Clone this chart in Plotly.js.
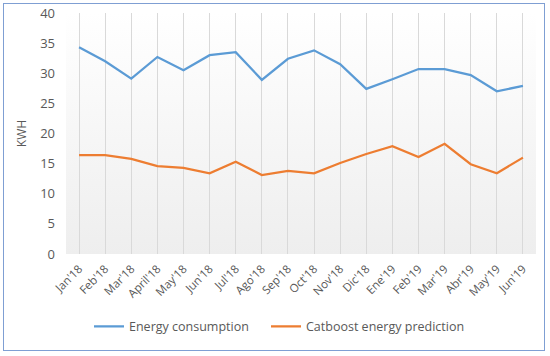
<!DOCTYPE html>
<html>
<head>
<meta charset="utf-8">
<script src="https://cdn.plot.ly/plotly-3.0.1.min.js"></script>
<style>
html,body{margin:0;padding:0;background:#fff;}
#wrap{position:relative;width:550px;height:356px;}
#chart{width:550px;height:356px;}
#frame{position:absolute;left:3px;top:3px;width:540px;height:346px;border:1.5px solid #7f9fd3;pointer-events:none;}
</style>
</head>
<body>
<div id="wrap"><div id="chart"></div><div id="frame"></div></div>
<script>
const months = ["Jan'18","Feb'18","Mar'18","April'18","May'18","Jun'18","Jul'18","Ago'18","Sep'18","Oct'18","Nov'18","Dic'18","Ene'19","Feb'19","Mar'19","Abr'19","May'19","Jun'19"];
const energyConsumption = [34.3,32.0,29.1,32.7,30.5,33.0,33.5,28.9,32.4,33.8,31.5,27.4,29.0,30.7,30.7,29.7,27.0,27.9];
const catboostPrediction = [16.4,16.4,15.8,14.6,14.3,13.4,15.3,13.1,13.8,13.4,15.1,16.6,17.9,16.1,18.3,14.9,13.4,16.0];

const grad = 'data:image/svg+xml;utf8,' + encodeURIComponent(
  '<svg xmlns="http://www.w3.org/2000/svg" width="100" height="100" preserveAspectRatio="none"><defs><linearGradient id="g" x1="0" y1="0" x2="0" y2="1"><stop offset="0" stop-color="#ffffff"/><stop offset="1" stop-color="#eeeeee"/></linearGradient></defs><rect width="100" height="100" fill="url(#g)"/></svg>');

const traces = [
  {x: months, y: energyConsumption, type: 'scatter', mode: 'lines', name: 'Energy consumption',
   line: {color: '#5B9BD5', width: 2.25}, legend: 'legend'},
  {x: months, y: catboostPrediction, type: 'scatter', mode: 'lines', name: 'Catboost energy prediction',
   line: {color: '#ED7D31', width: 2.25}, legend: 'legend2'}
];

const legendBase = {orientation: 'h', xref: 'container', yref: 'container', xanchor: 'left',
  y: 0.082, yanchor: 'middle', font: {size: 12.5, color: '#595959'}, bgcolor: 'rgba(0,0,0,0)'};

const layout = {
  width: 550, height: 356,
  margin: {l: 66, r: 14, t: 13, b: 102},
  paper_bgcolor: 'rgba(0,0,0,0)',
  plot_bgcolor: 'rgba(0,0,0,0)',
  font: {family: 'Open Sans, sans-serif', color: '#595959', size: 11},
  images: [{source: grad, xref: 'paper', yref: 'paper', x: 0, y: 1, sizex: 1, sizey: 1,
            sizing: 'stretch', xanchor: 'left', yanchor: 'top', layer: 'below'}],
  xaxis: {
    type: 'category', range: [-0.5, 17.5], showgrid: true, gridcolor: '#d9d9d9', gridwidth: 1,
    tickangle: -45, tickfont: {size: 11.5, color: '#595959'}, ticks: '', showline: false, zeroline: false,
    ticklabelstandoff: 5
  },
  yaxis: {
    range: [0, 40], dtick: 5, showgrid: false, zeroline: false, showline: false, ticks: '',
    tickfont: {size: 13, color: '#595959'}, ticklabelstandoff: 10,
    title: {text: 'KWH', font: {size: 12, color: '#595959'}, standoff: 10}
  },
  showlegend: true,
  legend: Object.assign({}, legendBase, {x: 89 / 550}),
  legend2: Object.assign({}, legendBase, {x: 266 / 550})
};

Plotly.newPlot('chart', traces, layout, {displayModeBar: false, staticPlot: true});
</script>
</body>
</html>
